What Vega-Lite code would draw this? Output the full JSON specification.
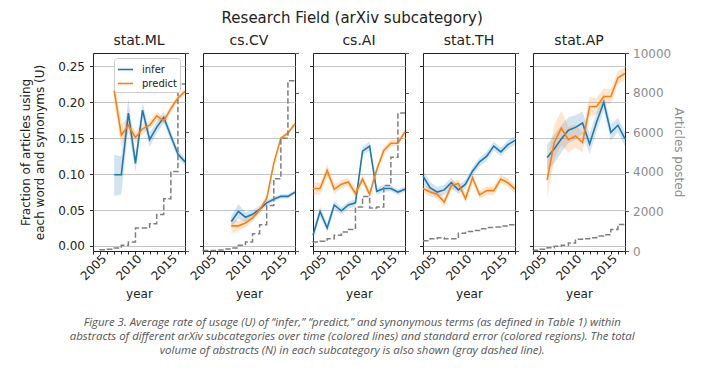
{
"$schema": "https://vega.github.io/schema/vega-lite/v6.json",
"background": "white",
"padding": {"left": 19, "top": 10, "right": 4, "bottom": 4},
"config": {
  "font": "DejaVu Sans",
  "view": {"stroke": "#222", "strokeWidth": 1},
  "axis": {"labelFont": "DejaVu Sans", "labelFontSize": 12, "labelColor": "#222", "tickColor": "#222", "tickWidth": 1, "domain": false, "titleFont": "DejaVu Sans", "titleFontWeight": "normal", "titleFontSize": 12, "titleColor": "#222"},
  "title": {"font": "DejaVu Sans", "fontWeight": "normal", "color": "#222"}
},
"datasets": {
"u": [
{"panel":"stat.ML","series":"infer","year":2008,"u":0.099,"lo":0.070,"hi":0.127},
{"panel":"stat.ML","series":"infer","year":2009,"u":0.099,"lo":0.072,"hi":0.125},
{"panel":"stat.ML","series":"infer","year":2010,"u":0.185,"lo":0.165,"hi":0.205},
{"panel":"stat.ML","series":"infer","year":2011,"u":0.115,"lo":0.103,"hi":0.127},
{"panel":"stat.ML","series":"infer","year":2012,"u":0.189,"lo":0.178,"hi":0.200},
{"panel":"stat.ML","series":"infer","year":2013,"u":0.148,"lo":0.138,"hi":0.158},
{"panel":"stat.ML","series":"infer","year":2014,"u":0.165,"lo":0.157,"hi":0.173},
{"panel":"stat.ML","series":"infer","year":2015,"u":0.179,"lo":0.171,"hi":0.187},
{"panel":"stat.ML","series":"infer","year":2016,"u":0.153,"lo":0.146,"hi":0.160},
{"panel":"stat.ML","series":"infer","year":2017,"u":0.128,"lo":0.122,"hi":0.134},
{"panel":"stat.ML","series":"infer","year":2018,"u":0.117,"lo":0.112,"hi":0.122},
{"panel":"stat.ML","series":"predict","year":2008,"u":0.216,"lo":0.200,"hi":0.232},
{"panel":"stat.ML","series":"predict","year":2009,"u":0.154,"lo":0.138,"hi":0.170},
{"panel":"stat.ML","series":"predict","year":2010,"u":0.168,"lo":0.158,"hi":0.178},
{"panel":"stat.ML","series":"predict","year":2011,"u":0.151,"lo":0.143,"hi":0.159},
{"panel":"stat.ML","series":"predict","year":2012,"u":0.163,"lo":0.156,"hi":0.170},
{"panel":"stat.ML","series":"predict","year":2013,"u":0.168,"lo":0.162,"hi":0.174},
{"panel":"stat.ML","series":"predict","year":2014,"u":0.181,"lo":0.175,"hi":0.187},
{"panel":"stat.ML","series":"predict","year":2015,"u":0.174,"lo":0.169,"hi":0.179},
{"panel":"stat.ML","series":"predict","year":2016,"u":0.191,"lo":0.186,"hi":0.196},
{"panel":"stat.ML","series":"predict","year":2017,"u":0.206,"lo":0.202,"hi":0.210},
{"panel":"stat.ML","series":"predict","year":2018,"u":0.215,"lo":0.211,"hi":0.219},
{"panel":"cs.CV","series":"infer","year":2009,"u":0.034,"lo":0.026,"hi":0.042},
{"panel":"cs.CV","series":"infer","year":2010,"u":0.048,"lo":0.038,"hi":0.058},
{"panel":"cs.CV","series":"infer","year":2011,"u":0.040,"lo":0.033,"hi":0.047},
{"panel":"cs.CV","series":"infer","year":2012,"u":0.044,"lo":0.038,"hi":0.050},
{"panel":"cs.CV","series":"infer","year":2013,"u":0.051,"lo":0.046,"hi":0.056},
{"panel":"cs.CV","series":"infer","year":2014,"u":0.060,"lo":0.056,"hi":0.064},
{"panel":"cs.CV","series":"infer","year":2015,"u":0.065,"lo":0.062,"hi":0.068},
{"panel":"cs.CV","series":"infer","year":2016,"u":0.069,"lo":0.066,"hi":0.072},
{"panel":"cs.CV","series":"infer","year":2017,"u":0.069,"lo":0.066,"hi":0.072},
{"panel":"cs.CV","series":"infer","year":2018,"u":0.075,"lo":0.072,"hi":0.078},
{"panel":"cs.CV","series":"predict","year":2009,"u":0.028,"lo":0.018,"hi":0.038},
{"panel":"cs.CV","series":"predict","year":2010,"u":0.028,"lo":0.021,"hi":0.035},
{"panel":"cs.CV","series":"predict","year":2011,"u":0.032,"lo":0.026,"hi":0.038},
{"panel":"cs.CV","series":"predict","year":2012,"u":0.039,"lo":0.034,"hi":0.044},
{"panel":"cs.CV","series":"predict","year":2013,"u":0.050,"lo":0.046,"hi":0.054},
{"panel":"cs.CV","series":"predict","year":2014,"u":0.066,"lo":0.062,"hi":0.070},
{"panel":"cs.CV","series":"predict","year":2015,"u":0.115,"lo":0.111,"hi":0.119},
{"panel":"cs.CV","series":"predict","year":2016,"u":0.150,"lo":0.147,"hi":0.153},
{"panel":"cs.CV","series":"predict","year":2017,"u":0.157,"lo":0.154,"hi":0.160},
{"panel":"cs.CV","series":"predict","year":2018,"u":0.170,"lo":0.167,"hi":0.173},
{"panel":"cs.AI","series":"infer","year":2005,"u":0.015,"lo":0.008,"hi":0.022},
{"panel":"cs.AI","series":"infer","year":2006,"u":0.048,"lo":0.041,"hi":0.055},
{"panel":"cs.AI","series":"infer","year":2007,"u":0.025,"lo":0.019,"hi":0.031},
{"panel":"cs.AI","series":"infer","year":2008,"u":0.057,"lo":0.051,"hi":0.063},
{"panel":"cs.AI","series":"infer","year":2009,"u":0.049,"lo":0.044,"hi":0.054},
{"panel":"cs.AI","series":"infer","year":2010,"u":0.057,"lo":0.052,"hi":0.062},
{"panel":"cs.AI","series":"infer","year":2011,"u":0.060,"lo":0.055,"hi":0.065},
{"panel":"cs.AI","series":"infer","year":2012,"u":0.132,"lo":0.126,"hi":0.138},
{"panel":"cs.AI","series":"infer","year":2013,"u":0.139,"lo":0.133,"hi":0.145},
{"panel":"cs.AI","series":"infer","year":2014,"u":0.076,"lo":0.071,"hi":0.081},
{"panel":"cs.AI","series":"infer","year":2015,"u":0.080,"lo":0.075,"hi":0.085},
{"panel":"cs.AI","series":"infer","year":2016,"u":0.080,"lo":0.076,"hi":0.084},
{"panel":"cs.AI","series":"infer","year":2017,"u":0.075,"lo":0.071,"hi":0.079},
{"panel":"cs.AI","series":"infer","year":2018,"u":0.079,"lo":0.075,"hi":0.083},
{"panel":"cs.AI","series":"predict","year":2005,"u":0.080,"lo":0.071,"hi":0.089},
{"panel":"cs.AI","series":"predict","year":2006,"u":0.080,"lo":0.072,"hi":0.088},
{"panel":"cs.AI","series":"predict","year":2007,"u":0.105,"lo":0.096,"hi":0.114},
{"panel":"cs.AI","series":"predict","year":2008,"u":0.079,"lo":0.072,"hi":0.086},
{"panel":"cs.AI","series":"predict","year":2009,"u":0.086,"lo":0.080,"hi":0.092},
{"panel":"cs.AI","series":"predict","year":2010,"u":0.089,"lo":0.083,"hi":0.095},
{"panel":"cs.AI","series":"predict","year":2011,"u":0.073,"lo":0.067,"hi":0.079},
{"panel":"cs.AI","series":"predict","year":2012,"u":0.093,"lo":0.087,"hi":0.099},
{"panel":"cs.AI","series":"predict","year":2013,"u":0.072,"lo":0.067,"hi":0.077},
{"panel":"cs.AI","series":"predict","year":2014,"u":0.106,"lo":0.101,"hi":0.111},
{"panel":"cs.AI","series":"predict","year":2015,"u":0.133,"lo":0.128,"hi":0.138},
{"panel":"cs.AI","series":"predict","year":2016,"u":0.143,"lo":0.138,"hi":0.148},
{"panel":"cs.AI","series":"predict","year":2017,"u":0.143,"lo":0.139,"hi":0.147},
{"panel":"cs.AI","series":"predict","year":2018,"u":0.159,"lo":0.155,"hi":0.163},
{"panel":"stat.TH","series":"infer","year":2005,"u":0.097,"lo":0.088,"hi":0.106},
{"panel":"stat.TH","series":"infer","year":2006,"u":0.081,"lo":0.073,"hi":0.089},
{"panel":"stat.TH","series":"infer","year":2007,"u":0.075,"lo":0.068,"hi":0.082},
{"panel":"stat.TH","series":"infer","year":2008,"u":0.078,"lo":0.071,"hi":0.085},
{"panel":"stat.TH","series":"infer","year":2009,"u":0.088,"lo":0.081,"hi":0.095},
{"panel":"stat.TH","series":"infer","year":2010,"u":0.078,"lo":0.072,"hi":0.084},
{"panel":"stat.TH","series":"infer","year":2011,"u":0.086,"lo":0.080,"hi":0.092},
{"panel":"stat.TH","series":"infer","year":2012,"u":0.104,"lo":0.098,"hi":0.110},
{"panel":"stat.TH","series":"infer","year":2013,"u":0.117,"lo":0.111,"hi":0.123},
{"panel":"stat.TH","series":"infer","year":2014,"u":0.125,"lo":0.119,"hi":0.131},
{"panel":"stat.TH","series":"infer","year":2015,"u":0.139,"lo":0.133,"hi":0.145},
{"panel":"stat.TH","series":"infer","year":2016,"u":0.131,"lo":0.125,"hi":0.137},
{"panel":"stat.TH","series":"infer","year":2017,"u":0.141,"lo":0.135,"hi":0.147},
{"panel":"stat.TH","series":"infer","year":2018,"u":0.147,"lo":0.141,"hi":0.153},
{"panel":"stat.TH","series":"predict","year":2005,"u":0.080,"lo":0.074,"hi":0.086},
{"panel":"stat.TH","series":"predict","year":2006,"u":0.075,"lo":0.069,"hi":0.081},
{"panel":"stat.TH","series":"predict","year":2007,"u":0.072,"lo":0.066,"hi":0.078},
{"panel":"stat.TH","series":"predict","year":2008,"u":0.061,"lo":0.055,"hi":0.067},
{"panel":"stat.TH","series":"predict","year":2009,"u":0.084,"lo":0.078,"hi":0.090},
{"panel":"stat.TH","series":"predict","year":2010,"u":0.087,"lo":0.081,"hi":0.093},
{"panel":"stat.TH","series":"predict","year":2011,"u":0.066,"lo":0.060,"hi":0.072},
{"panel":"stat.TH","series":"predict","year":2012,"u":0.095,"lo":0.089,"hi":0.101},
{"panel":"stat.TH","series":"predict","year":2013,"u":0.071,"lo":0.065,"hi":0.077},
{"panel":"stat.TH","series":"predict","year":2014,"u":0.077,"lo":0.071,"hi":0.083},
{"panel":"stat.TH","series":"predict","year":2015,"u":0.077,"lo":0.071,"hi":0.083},
{"panel":"stat.TH","series":"predict","year":2016,"u":0.093,"lo":0.087,"hi":0.099},
{"panel":"stat.TH","series":"predict","year":2017,"u":0.088,"lo":0.082,"hi":0.094},
{"panel":"stat.TH","series":"predict","year":2018,"u":0.079,"lo":0.073,"hi":0.085},
{"panel":"stat.AP","series":"infer","year":2007,"u":0.123,"lo":0.105,"hi":0.141},
{"panel":"stat.AP","series":"infer","year":2008,"u":0.135,"lo":0.115,"hi":0.155},
{"panel":"stat.AP","series":"infer","year":2009,"u":0.149,"lo":0.130,"hi":0.168},
{"panel":"stat.AP","series":"infer","year":2010,"u":0.161,"lo":0.143,"hi":0.179},
{"panel":"stat.AP","series":"infer","year":2011,"u":0.165,"lo":0.148,"hi":0.182},
{"panel":"stat.AP","series":"infer","year":2012,"u":0.171,"lo":0.155,"hi":0.187},
{"panel":"stat.AP","series":"infer","year":2013,"u":0.142,"lo":0.128,"hi":0.156},
{"panel":"stat.AP","series":"infer","year":2014,"u":0.173,"lo":0.160,"hi":0.186},
{"panel":"stat.AP","series":"infer","year":2015,"u":0.200,"lo":0.188,"hi":0.212},
{"panel":"stat.AP","series":"infer","year":2016,"u":0.158,"lo":0.147,"hi":0.169},
{"panel":"stat.AP","series":"infer","year":2017,"u":0.168,"lo":0.158,"hi":0.178},
{"panel":"stat.AP","series":"infer","year":2018,"u":0.149,"lo":0.139,"hi":0.159},
{"panel":"stat.AP","series":"predict","year":2007,"u":0.092,"lo":0.068,"hi":0.116},
{"panel":"stat.AP","series":"predict","year":2008,"u":0.144,"lo":0.120,"hi":0.168},
{"panel":"stat.AP","series":"predict","year":2009,"u":0.164,"lo":0.140,"hi":0.188},
{"panel":"stat.AP","series":"predict","year":2010,"u":0.148,"lo":0.130,"hi":0.166},
{"panel":"stat.AP","series":"predict","year":2011,"u":0.153,"lo":0.137,"hi":0.169},
{"panel":"stat.AP","series":"predict","year":2012,"u":0.144,"lo":0.130,"hi":0.158},
{"panel":"stat.AP","series":"predict","year":2013,"u":0.194,"lo":0.181,"hi":0.207},
{"panel":"stat.AP","series":"predict","year":2014,"u":0.194,"lo":0.182,"hi":0.206},
{"panel":"stat.AP","series":"predict","year":2015,"u":0.208,"lo":0.197,"hi":0.219},
{"panel":"stat.AP","series":"predict","year":2016,"u":0.208,"lo":0.198,"hi":0.218},
{"panel":"stat.AP","series":"predict","year":2017,"u":0.234,"lo":0.225,"hi":0.243},
{"panel":"stat.AP","series":"predict","year":2018,"u":0.240,"lo":0.231,"hi":0.249}
],
"n": [
{"panel":"stat.ML","year":2006,"n":30},{"panel":"stat.ML","year":2007,"n":60},{"panel":"stat.ML","year":2008,"n":84},{"panel":"stat.ML","year":2009,"n":150},{"panel":"stat.ML","year":2010,"n":285},{"panel":"stat.ML","year":2011,"n":454},{"panel":"stat.ML","year":2012,"n":1160},{"panel":"stat.ML","year":2013,"n":1160},{"panel":"stat.ML","year":2014,"n":1378},{"panel":"stat.ML","year":2015,"n":1848},{"panel":"stat.ML","year":2016,"n":2638},{"panel":"stat.ML","year":2017,"n":4015},{"panel":"stat.ML","year":2018,"n":8434},
{"panel":"cs.CV","year":2005,"n":10},{"panel":"cs.CV","year":2006,"n":20},{"panel":"cs.CV","year":2007,"n":30},{"panel":"cs.CV","year":2008,"n":50},{"panel":"cs.CV","year":2009,"n":100},{"panel":"cs.CV","year":2010,"n":150},{"panel":"cs.CV","year":2011,"n":285},{"panel":"cs.CV","year":2012,"n":450},{"panel":"cs.CV","year":2013,"n":875},{"panel":"cs.CV","year":2014,"n":1330},{"panel":"cs.CV","year":2015,"n":2300},{"panel":"cs.CV","year":2016,"n":3650},{"panel":"cs.CV","year":2017,"n":5700},{"panel":"cs.CV","year":2018,"n":8600},
{"panel":"cs.AI","year":2005,"n":430},{"panel":"cs.AI","year":2006,"n":454},{"panel":"cs.AI","year":2007,"n":487},{"panel":"cs.AI","year":2008,"n":620},{"panel":"cs.AI","year":2009,"n":790},{"panel":"cs.AI","year":2010,"n":958},{"panel":"cs.AI","year":2011,"n":1092},{"panel":"cs.AI","year":2012,"n":2218},{"panel":"cs.AI","year":2013,"n":2755},{"panel":"cs.AI","year":2014,"n":2167},{"panel":"cs.AI","year":2015,"n":2218},{"panel":"cs.AI","year":2016,"n":3310},{"panel":"cs.AI","year":2017,"n":4738},{"panel":"cs.AI","year":2018,"n":6972},
{"panel":"stat.TH","year":2005,"n":520},{"panel":"stat.TH","year":2006,"n":520},{"panel":"stat.TH","year":2007,"n":620},{"panel":"stat.TH","year":2008,"n":670},{"panel":"stat.TH","year":2009,"n":620},{"panel":"stat.TH","year":2010,"n":620},{"panel":"stat.TH","year":2011,"n":900},{"panel":"stat.TH","year":2012,"n":990},{"panel":"stat.TH","year":2013,"n":1040},{"panel":"stat.TH","year":2014,"n":1130},{"panel":"stat.TH","year":2015,"n":1190},{"panel":"stat.TH","year":2016,"n":1210},{"panel":"stat.TH","year":2017,"n":1260},{"panel":"stat.TH","year":2018,"n":1330},
{"panel":"stat.AP","year":2005,"n":20},{"panel":"stat.AP","year":2006,"n":34},{"panel":"stat.AP","year":2007,"n":84},{"panel":"stat.AP","year":2008,"n":168},{"panel":"stat.AP","year":2009,"n":235},{"panel":"stat.AP","year":2010,"n":286},{"panel":"stat.AP","year":2011,"n":403},{"panel":"stat.AP","year":2012,"n":588},{"panel":"stat.AP","year":2013,"n":622},{"panel":"stat.AP","year":2014,"n":672},{"panel":"stat.AP","year":2015,"n":756},{"panel":"stat.AP","year":2016,"n":823},{"panel":"stat.AP","year":2017,"n":1080},{"panel":"stat.AP","year":2018,"n":1344}
]
},
"title": {"text": ["Figure 3. Average rate of usage (U) of “infer,” “predict,” and synonymous terms (as defined in Table 1) within", "abstracts of different arXiv subcategories over time (colored lines) and standard error (colored regions). The total", "volume of abstracts (N) in each subcategory is also shown (gray dashed line)."], "orient": "bottom", "anchor": "middle", "font": "Open Sans", "fontStyle": "italic", "fontSize": 11.4, "fontWeight": "normal", "color": "#555", "lineHeight": 14, "offset": 17},
"vconcat": [{
"title": {"text": "Research Field (arXiv subcategory)", "fontSize": 15, "anchor": "middle", "offset": 8},
"spacing": 18,
"bounds": "flush",
"resolve": {"legend": {"color": "independent"}, "scale": {"color": "independent"}},
"hconcat": [
{
 "title": {"text": "stat.ML", "fontSize": 14, "offset": -1},
 "width": 92, "height": 198,
 "encoding": {"x": {"field": "year", "type": "quantitative", "scale": {"domain": [2005, 2018], "nice": false, "zero": false}, "axis": {"title": "year", "values": [2005,2006,2007,2008,2009,2010,2011,2012,2013,2014,2015,2016,2017,2018], "format": "d", "labelExpr": "datum.value % 5 === 0 ? datum.label : ''", "labelOverlap": false, "labelAngle": -45, "labelAlign": "center", "labelBaseline": "middle", "labelPadding": 13, "tickSize": 3, "grid": false, "titlePadding": 6}}},
 "layer": [
  {"data": {"name": "u"}, "transform": [{"filter": "datum.panel === 'stat.ML'"}],
   "layer": [
    {"transform": [{"filter": "datum.series === 'infer'"}], "mark": {"type": "area", "opacity": 0.2, "color": "#1f77b4"}, "encoding": {"y": {"field": "lo", "type": "quantitative", "stack": null, "scale": {"domain": [-0.007, 0.2685], "nice": false, "zero": false}, "axis": {"orient": "left", "values": [0, 0.05, 0.1, 0.15, 0.2, 0.25], "format": ".2f", "grid": true, "gridColor": "#c4c4c4", "tickSize": 3.5, "labelPadding": 5, "title": ["Fraction of articles using", "each word and synonyms (U)"], "titlePadding": 11}}, "y2": {"field": "hi"}}},
    {"transform": [{"filter": "datum.series === 'predict'"}], "mark": {"type": "area", "opacity": 0.2, "color": "#ff7f0e"}, "encoding": {"y": {"field": "lo", "type": "quantitative", "stack": null, "scale": {"domain": [-0.007, 0.2685], "nice": false, "zero": false}, "axis": {"orient": "left", "values": [0, 0.05, 0.1, 0.15, 0.2, 0.25], "format": ".2f", "grid": true, "gridColor": "#c4c4c4", "tickSize": 3.5, "labelPadding": 5, "title": ["Fraction of articles using", "each word and synonyms (U)"], "titlePadding": 11}}, "y2": {"field": "hi"}}},
    {"mark": {"type": "line", "strokeWidth": 1.6}, "encoding": {"color": {"field": "series", "type": "nominal", "scale": {"domain": ["infer", "predict"], "range": ["#1f77b4", "#ff7f0e"]}, "legend": {"orient": "top-right", "title": null, "symbolType": "stroke", "symbolStrokeWidth": 1.6, "symbolSize": 225, "labelFontSize": 10, "labelFont": "DejaVu Sans", "labelColor": "#222", "padding": 3, "strokeColor": "#ccc", "fillColor": "white", "cornerRadius": 3, "offset": 5, "rowPadding": 0, "labelOffset": 8}}, "y": {"field": "u", "type": "quantitative", "scale": {"domain": [-0.007, 0.2685], "nice": false, "zero": false}, "axis": {"orient": "left", "values": [0, 0.05, 0.1, 0.15, 0.2, 0.25], "format": ".2f", "grid": true, "gridColor": "#c4c4c4", "tickSize": 3.5, "labelPadding": 5, "title": ["Fraction of articles using", "each word and synonyms (U)"], "titlePadding": 11}}}}
   ]},
  {"data": {"name": "n"}, "transform": [{"filter": "datum.panel === 'stat.ML'"}],
   "mark": {"type": "line", "interpolate": "step-before", "strokeDash": [5.5, 2.5], "color": "#7f7f7f", "strokeWidth": 1.5},
   "encoding": {"y": {"field": "n", "type": "quantitative", "scale": {"domain": [0, 10000], "nice": false}, "axis": {"orient": "right", "values": [0, 2000, 4000, 6000, 8000, 10000], "format": "d", "labelOpacity": 0, "labelPadding": 4, "title": null, "grid": false, "tickSize": 3.5, "tickColor": "#555"}}}}
 ],
 "resolve": {"scale": {"y": "independent"}}
},
{
 "title": {"text": "cs.CV", "fontSize": 14, "offset": -1},
 "width": 92, "height": 198,
 "encoding": {"x": {"field": "year", "type": "quantitative", "scale": {"domain": [2005, 2018], "nice": false, "zero": false}, "axis": {"title": "year", "values": [2005,2006,2007,2008,2009,2010,2011,2012,2013,2014,2015,2016,2017,2018], "format": "d", "labelExpr": "datum.value % 5 === 0 ? datum.label : ''", "labelOverlap": false, "labelAngle": -45, "labelAlign": "center", "labelBaseline": "middle", "labelPadding": 13, "tickSize": 3, "grid": false, "titlePadding": 6}}},
 "layer": [
  {"data": {"name": "u"}, "transform": [{"filter": "datum.panel === 'cs.CV'"}],
   "layer": [
    {"transform": [{"filter": "datum.series === 'infer'"}], "mark": {"type": "area", "opacity": 0.2, "color": "#1f77b4"}, "encoding": {"y": {"field": "lo", "type": "quantitative", "stack": null, "scale": {"domain": [-0.007, 0.2685], "nice": false, "zero": false}, "axis": {"orient": "left", "values": [0, 0.05, 0.1, 0.15, 0.2, 0.25], "labels": false, "grid": true, "gridColor": "#c4c4c4", "tickSize": 3.5, "title": null}}, "y2": {"field": "hi"}}},
    {"transform": [{"filter": "datum.series === 'predict'"}], "mark": {"type": "area", "opacity": 0.2, "color": "#ff7f0e"}, "encoding": {"y": {"field": "lo", "type": "quantitative", "stack": null, "scale": {"domain": [-0.007, 0.2685], "nice": false, "zero": false}, "axis": {"orient": "left", "values": [0, 0.05, 0.1, 0.15, 0.2, 0.25], "labels": false, "grid": true, "gridColor": "#c4c4c4", "tickSize": 3.5, "title": null}}, "y2": {"field": "hi"}}},
    {"mark": {"type": "line", "strokeWidth": 1.6}, "encoding": {"color": {"field": "series", "type": "nominal", "scale": {"domain": ["infer", "predict"], "range": ["#1f77b4", "#ff7f0e"]}, "legend": null}, "y": {"field": "u", "type": "quantitative", "scale": {"domain": [-0.007, 0.2685], "nice": false, "zero": false}, "axis": {"orient": "left", "values": [0, 0.05, 0.1, 0.15, 0.2, 0.25], "labels": false, "grid": true, "gridColor": "#c4c4c4", "tickSize": 3.5, "title": null}}}}
   ]},
  {"data": {"name": "n"}, "transform": [{"filter": "datum.panel === 'cs.CV'"}],
   "mark": {"type": "line", "interpolate": "step-before", "strokeDash": [5.5, 2.5], "color": "#7f7f7f", "strokeWidth": 1.5},
   "encoding": {"y": {"field": "n", "type": "quantitative", "scale": {"domain": [0, 10000], "nice": false}, "axis": {"orient": "right", "values": [0, 2000, 4000, 6000, 8000, 10000], "format": "d", "labelOpacity": 0, "labelPadding": 4, "title": null, "grid": false, "tickSize": 3.5, "tickColor": "#555"}}}}
 ],
 "resolve": {"scale": {"y": "independent"}}
},
{
 "title": {"text": "cs.AI", "fontSize": 14, "offset": -1},
 "width": 92, "height": 198,
 "encoding": {"x": {"field": "year", "type": "quantitative", "scale": {"domain": [2005, 2018], "nice": false, "zero": false}, "axis": {"title": "year", "values": [2005,2006,2007,2008,2009,2010,2011,2012,2013,2014,2015,2016,2017,2018], "format": "d", "labelExpr": "datum.value % 5 === 0 ? datum.label : ''", "labelOverlap": false, "labelAngle": -45, "labelAlign": "center", "labelBaseline": "middle", "labelPadding": 13, "tickSize": 3, "grid": false, "titlePadding": 6}}},
 "layer": [
  {"data": {"name": "u"}, "transform": [{"filter": "datum.panel === 'cs.AI'"}],
   "layer": [
    {"transform": [{"filter": "datum.series === 'infer'"}], "mark": {"type": "area", "opacity": 0.2, "color": "#1f77b4"}, "encoding": {"y": {"field": "lo", "type": "quantitative", "stack": null, "scale": {"domain": [-0.007, 0.2685], "nice": false, "zero": false}, "axis": {"orient": "left", "values": [0, 0.05, 0.1, 0.15, 0.2, 0.25], "labels": false, "grid": true, "gridColor": "#c4c4c4", "tickSize": 3.5, "title": null}}, "y2": {"field": "hi"}}},
    {"transform": [{"filter": "datum.series === 'predict'"}], "mark": {"type": "area", "opacity": 0.2, "color": "#ff7f0e"}, "encoding": {"y": {"field": "lo", "type": "quantitative", "stack": null, "scale": {"domain": [-0.007, 0.2685], "nice": false, "zero": false}, "axis": {"orient": "left", "values": [0, 0.05, 0.1, 0.15, 0.2, 0.25], "labels": false, "grid": true, "gridColor": "#c4c4c4", "tickSize": 3.5, "title": null}}, "y2": {"field": "hi"}}},
    {"mark": {"type": "line", "strokeWidth": 1.6}, "encoding": {"color": {"field": "series", "type": "nominal", "scale": {"domain": ["infer", "predict"], "range": ["#1f77b4", "#ff7f0e"]}, "legend": null}, "y": {"field": "u", "type": "quantitative", "scale": {"domain": [-0.007, 0.2685], "nice": false, "zero": false}, "axis": {"orient": "left", "values": [0, 0.05, 0.1, 0.15, 0.2, 0.25], "labels": false, "grid": true, "gridColor": "#c4c4c4", "tickSize": 3.5, "title": null}}}}
   ]},
  {"data": {"name": "n"}, "transform": [{"filter": "datum.panel === 'cs.AI'"}],
   "mark": {"type": "line", "interpolate": "step-before", "strokeDash": [5.5, 2.5], "color": "#7f7f7f", "strokeWidth": 1.5},
   "encoding": {"y": {"field": "n", "type": "quantitative", "scale": {"domain": [0, 10000], "nice": false}, "axis": {"orient": "right", "values": [0, 2000, 4000, 6000, 8000, 10000], "format": "d", "labelOpacity": 0, "labelPadding": 4, "title": null, "grid": false, "tickSize": 3.5, "tickColor": "#555"}}}}
 ],
 "resolve": {"scale": {"y": "independent"}}
},
{
 "title": {"text": "stat.TH", "fontSize": 14, "offset": -1},
 "width": 92, "height": 198,
 "encoding": {"x": {"field": "year", "type": "quantitative", "scale": {"domain": [2005, 2018], "nice": false, "zero": false}, "axis": {"title": "year", "values": [2005,2006,2007,2008,2009,2010,2011,2012,2013,2014,2015,2016,2017,2018], "format": "d", "labelExpr": "datum.value % 5 === 0 ? datum.label : ''", "labelOverlap": false, "labelAngle": -45, "labelAlign": "center", "labelBaseline": "middle", "labelPadding": 13, "tickSize": 3, "grid": false, "titlePadding": 6}}},
 "layer": [
  {"data": {"name": "u"}, "transform": [{"filter": "datum.panel === 'stat.TH'"}],
   "layer": [
    {"transform": [{"filter": "datum.series === 'infer'"}], "mark": {"type": "area", "opacity": 0.2, "color": "#1f77b4"}, "encoding": {"y": {"field": "lo", "type": "quantitative", "stack": null, "scale": {"domain": [-0.007, 0.2685], "nice": false, "zero": false}, "axis": {"orient": "left", "values": [0, 0.05, 0.1, 0.15, 0.2, 0.25], "labels": false, "grid": true, "gridColor": "#c4c4c4", "tickSize": 3.5, "title": null}}, "y2": {"field": "hi"}}},
    {"transform": [{"filter": "datum.series === 'predict'"}], "mark": {"type": "area", "opacity": 0.2, "color": "#ff7f0e"}, "encoding": {"y": {"field": "lo", "type": "quantitative", "stack": null, "scale": {"domain": [-0.007, 0.2685], "nice": false, "zero": false}, "axis": {"orient": "left", "values": [0, 0.05, 0.1, 0.15, 0.2, 0.25], "labels": false, "grid": true, "gridColor": "#c4c4c4", "tickSize": 3.5, "title": null}}, "y2": {"field": "hi"}}},
    {"mark": {"type": "line", "strokeWidth": 1.6}, "encoding": {"color": {"field": "series", "type": "nominal", "scale": {"domain": ["infer", "predict"], "range": ["#1f77b4", "#ff7f0e"]}, "legend": null}, "y": {"field": "u", "type": "quantitative", "scale": {"domain": [-0.007, 0.2685], "nice": false, "zero": false}, "axis": {"orient": "left", "values": [0, 0.05, 0.1, 0.15, 0.2, 0.25], "labels": false, "grid": true, "gridColor": "#c4c4c4", "tickSize": 3.5, "title": null}}}}
   ]},
  {"data": {"name": "n"}, "transform": [{"filter": "datum.panel === 'stat.TH'"}],
   "mark": {"type": "line", "interpolate": "step-before", "strokeDash": [5.5, 2.5], "color": "#7f7f7f", "strokeWidth": 1.5},
   "encoding": {"y": {"field": "n", "type": "quantitative", "scale": {"domain": [0, 10000], "nice": false}, "axis": {"orient": "right", "values": [0, 2000, 4000, 6000, 8000, 10000], "format": "d", "labelOpacity": 0, "labelPadding": 4, "title": null, "grid": false, "tickSize": 3.5, "tickColor": "#555"}}}}
 ],
 "resolve": {"scale": {"y": "independent"}}
},
{
 "title": {"text": "stat.AP", "fontSize": 14, "offset": -1},
 "width": 92, "height": 198,
 "encoding": {"x": {"field": "year", "type": "quantitative", "scale": {"domain": [2005, 2018], "nice": false, "zero": false}, "axis": {"title": "year", "values": [2005,2006,2007,2008,2009,2010,2011,2012,2013,2014,2015,2016,2017,2018], "format": "d", "labelExpr": "datum.value % 5 === 0 ? datum.label : ''", "labelOverlap": false, "labelAngle": -45, "labelAlign": "center", "labelBaseline": "middle", "labelPadding": 13, "tickSize": 3, "grid": false, "titlePadding": 6}}},
 "layer": [
  {"data": {"name": "u"}, "transform": [{"filter": "datum.panel === 'stat.AP'"}],
   "layer": [
    {"transform": [{"filter": "datum.series === 'infer'"}], "mark": {"type": "area", "opacity": 0.2, "color": "#1f77b4"}, "encoding": {"y": {"field": "lo", "type": "quantitative", "stack": null, "scale": {"domain": [-0.007, 0.2685], "nice": false, "zero": false}, "axis": {"orient": "left", "values": [0, 0.05, 0.1, 0.15, 0.2, 0.25], "labels": false, "grid": true, "gridColor": "#c4c4c4", "tickSize": 3.5, "title": null}}, "y2": {"field": "hi"}}},
    {"transform": [{"filter": "datum.series === 'predict'"}], "mark": {"type": "area", "opacity": 0.2, "color": "#ff7f0e"}, "encoding": {"y": {"field": "lo", "type": "quantitative", "stack": null, "scale": {"domain": [-0.007, 0.2685], "nice": false, "zero": false}, "axis": {"orient": "left", "values": [0, 0.05, 0.1, 0.15, 0.2, 0.25], "labels": false, "grid": true, "gridColor": "#c4c4c4", "tickSize": 3.5, "title": null}}, "y2": {"field": "hi"}}},
    {"mark": {"type": "line", "strokeWidth": 1.6}, "encoding": {"color": {"field": "series", "type": "nominal", "scale": {"domain": ["infer", "predict"], "range": ["#1f77b4", "#ff7f0e"]}, "legend": null}, "y": {"field": "u", "type": "quantitative", "scale": {"domain": [-0.007, 0.2685], "nice": false, "zero": false}, "axis": {"orient": "left", "values": [0, 0.05, 0.1, 0.15, 0.2, 0.25], "labels": false, "grid": true, "gridColor": "#c4c4c4", "tickSize": 3.5, "title": null}}}}
   ]},
  {"data": {"name": "n"}, "transform": [{"filter": "datum.panel === 'stat.AP'"}],
   "mark": {"type": "line", "interpolate": "step-before", "strokeDash": [5.5, 2.5], "color": "#7f7f7f", "strokeWidth": 1.5},
   "encoding": {"y": {"field": "n", "type": "quantitative", "scale": {"domain": [0, 10000], "nice": false}, "axis": {"orient": "right", "values": [0, 2000, 4000, 6000, 8000, 10000], "format": "d", "labelColor": "#8c8c8c", "labelPadding": 4, "title": "Articles posted", "titleColor": "#8c8c8c", "titlePadding": 1, "grid": false, "tickSize": 3.5, "tickColor": "#555"}}}}
 ],
 "resolve": {"scale": {"y": "independent"}}
}
]
}]
}
